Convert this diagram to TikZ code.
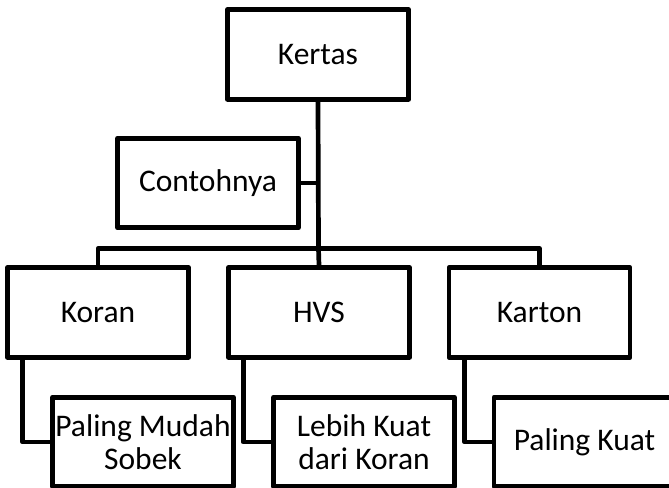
\documentclass[tikz,border=0pt]{standalone}
\usepackage{fontspec}
\setmainfont{Carlito}
\begin{document}
\begin{tikzpicture}[x=1bp,y=-1bp,
  line width=4.7bp, line join=round,
  box/.style={draw, rectangle, minimum width=181bp, minimum height=89.5bp,
    inner sep=0pt, align=center,
    font=\fontsize{31.5bp}{33bp}\selectfont},
  link/.style={draw, line cap=butt}]
  \fill[white] (0,0) rectangle (669,488);
  \useasboundingbox (0,0) rectangle (669,488);
  \clip (0,0) rectangle (669,488);

  % top and side nodes
  \node[box] (kertas) at (318,54.5) {Kertas};
  \node[box] (contoh) at (208,183) {Contohnya};

  % second level
  \node[box] (koran)  at (98,312.5)    {Koran};
  \node[box] (hvs)    at (319,312.5)   {HVS};
  \node[box] (karton) at (539.5,312.5) {Karton};

  % descriptions
  \node[box] (mudah) at (143,442)   {Paling Mudah\\Sobek};
  \node[box] (lebih) at (364,442)   {Lebih Kuat\\dari Koran};
  \node[box] (kuat)  at (584.5,442) {Paling Kuat};

  % branching point of the tree
  \coordinate (hub) at (318.5,248.5);

  \draw[link] (kertas.south) -- (hub);
  \draw[link] (contoh.east) -- (contoh.east -| hub);
  \draw[link] (koran.north) |- (hub) -| (karton.north);
  \draw[link] (hub) -- (hvs.north);

  \draw[link] ([xshift=17.5bp]koran.south west) |- (mudah.west);
  \draw[link] ([xshift=17bp]hvs.south west) |- (lebih.west);
  \draw[link] ([xshift=18bp]karton.south west) |- (kuat.west);
\end{tikzpicture}
\end{document}
